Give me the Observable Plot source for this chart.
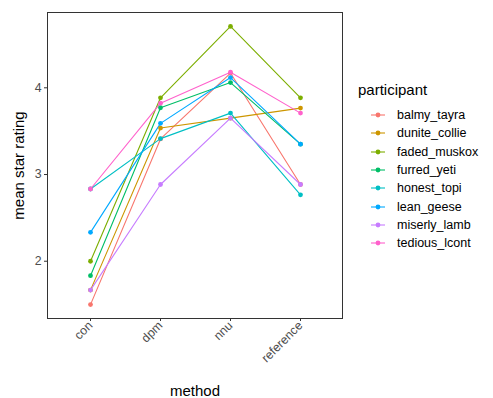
<!DOCTYPE html>
<html><head><meta charset="utf-8">
<script src="https://cdn.jsdelivr.net/npm/d3@7"></script>
<script src="https://cdn.jsdelivr.net/npm/@observablehq/plot@0.6"></script>
<style>
body{margin:0;background:#fff;font-family:"Liberation Sans",Arial,sans-serif;}
#wrap{position:relative;width:493px;height:398px;}
#legend{position:absolute;left:358px;top:81px;font-family:"Liberation Sans",Arial,sans-serif;}
#legend .title{font-size:15px;color:#000;margin-bottom:8px;}
#legend .item{display:flex;align-items:center;height:18.3px;font-size:12.5px;color:#000;}
#legend svg{margin-left:13px;margin-right:12px;}
</style></head><body>
<div id="wrap"><div id="chart"></div><div id="legend"></div></div>
<script>
const methods = ["con","dpm","nnu","reference"];
const participants = ["balmy_tayra","dunite_collie","faded_muskox","furred_yeti","honest_topi","lean_geese","miserly_lamb","tedious_lcont"];
const colors = ["#F8766D","#CD9600","#7CAE00","#00BE67","#00BFC4","#00A9FF","#C77CFF","#FF61CC"];
const balmy_tayra   = [1.50, 3.41, 4.17, 2.885];
const dunite_collie = [1.667, 3.536, 3.65, 3.766];
const faded_muskox  = [2.00, 3.885, 4.708, 3.885];
const furred_yeti   = [1.833, 3.77, 4.06, 3.35];
const honest_topi   = [2.833, 3.414, 3.708, 2.766];
const lean_geese    = [2.333, 3.59, 4.118, 3.35];
const miserly_lamb  = [1.667, 2.885, 3.65, 2.885];
const tedious_lcont = [2.833, 3.823, 4.18, 3.708];
const series = [balmy_tayra, dunite_collie, faded_muskox, furred_yeti, honest_topi, lean_geese, miserly_lamb, tedious_lcont];
const yTicks = [2, 3, 4];

const data = [];
participants.forEach((p, i) => methods.forEach((m, j) => data.push({participant: p, method: m, value: series[i][j]})));

const chart = Plot.plot({
  width: 350, height: 398,
  marginLeft: 47, marginRight: 8, marginTop: 12, marginBottom: 80,
  style: {fontFamily: '"Liberation Sans", Arial, sans-serif', background: "#fff"},
  x: {type: "point", domain: methods, padding: 0.6},
  y: {domain: [1.3396, 4.8684]},
  color: {domain: participants, range: colors},
  marks: [
    Plot.frame({stroke: "#333", strokeWidth: 1}),
    Plot.line(data, {x: "method", y: "value", z: "participant", stroke: "participant", strokeWidth: 1.1}),
    Plot.dot(data, {x: "method", y: "value", fill: "participant", r: 2.4}),
    Plot.axisX({tickSize: 3, tickPadding: 2, tickRotate: -45, fontSize: 12.3, color: "#4d4d4d", stroke: "#333",
      label: "method", labelAnchor: "center", labelArrow: "none", labelOffset: 77}),
    Plot.axisY({ticks: yTicks, tickFormat: d => String(d), tickSize: 3, tickPadding: 3, fontSize: 12.3, color: "#4d4d4d", stroke: "#333",
      label: "mean star rating", labelAnchor: "center", labelArrow: "none", labelOffset: 34})
  ]
});
document.getElementById("chart").append(chart);
chart.querySelectorAll("[aria-label='x-axis label'] text, [aria-label='y-axis label'] text").forEach(t => {
  t.setAttribute("font-size", "15"); t.style.fontSize = "15px"; t.setAttribute("fill", "#000");
});

const lg = document.getElementById("legend");
const title = document.createElement("div"); title.className = "title"; title.textContent = "participant"; lg.append(title);
participants.forEach((p, i) => {
  const it = document.createElement("div"); it.className = "item";
  it.innerHTML = `<svg width="14" height="10"><line x1="0" x2="14" y1="5" y2="5" stroke="${colors[i]}" stroke-width="1.1"/><circle cx="7" cy="5" r="2.4" fill="${colors[i]}"/></svg>`;
  const s = document.createElement("span"); s.textContent = p; it.append(s);
  lg.append(it);
});
</script></body></html>
